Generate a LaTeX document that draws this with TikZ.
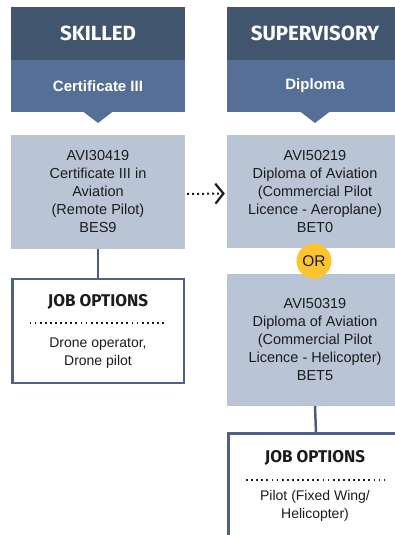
\documentclass[tikz,border=0pt]{standalone}
\usepackage{fontspec}
\setmainfont{Liberation Sans}
\newfontfamily\headfont{Fira Sans}
\usetikzlibrary{arrows.meta}
\definecolor{hdark}{HTML}{42556F}
\definecolor{hlight}{HTML}{566F96}
\definecolor{boxgrey}{HTML}{B9C5D5}
\definecolor{jobborder}{HTML}{4E6283}
\definecolor{conn}{HTML}{4A5D7C}
\definecolor{orfill}{HTML}{FCC42E}
\definecolor{ink}{HTML}{1C1C1C}
\tikzset{
  hdbox/.style={fill=hdark, minimum height=53pt, inner sep=0pt, text=white,
    font=\headfont\bfseries\fontsize{20.5}{24}\selectfont},
  subbox/.style={fill=hlight, minimum height=52pt, inner sep=0pt, text=white,
    font=\bfseries\fontsize{15}{18}\selectfont},
  pointer/.style={fill=hlight},
  coursebox/.style={fill=boxgrey, inner sep=0pt, text=ink, align=center,
    font=\fontsize{14.5}{18}\selectfont},
  jobbox/.style={draw=jobborder, line width=2.5pt, fill=white, inner sep=0pt},
  jobtitle/.style={text=ink, inner sep=0pt, font=\headfont\bfseries\fontsize{17}{20}\selectfont},
  jobtext/.style={text=ink, inner sep=0pt, align=center, font=\fontsize{14}{18}\selectfont},
  sepline/.style={ink, line width=1.8pt, dash pattern=on 1.8pt off 3.3pt},
  link/.style={conn, line width=2.5pt},
  nextarrow/.style={ink, line width=2pt, dash pattern=on 2pt off 3pt,
    -{Straight Barb[length=8pt,width=20pt,line width=2.2pt]}, shorten <=2pt, shorten >=2pt},
  ornode/.style={circle, fill=orfill, minimum size=35pt, inner sep=0pt, text=ink,
    font=\fontsize{15.5}{18}\selectfont}
}
\begin{document}
\begin{tikzpicture}[x=1pt,y=-1pt]
\useasboundingbox (0,0) rectangle (395,535);
\clip (0,0) rectangle (395,535);

% headers
\node[hdbox, minimum width=174pt] (hdL) at (98,33.5) {SKILLED};
\node[subbox, minimum width=174pt] (subL) at (98,86) {Certificate III};
\fill[pointer] (83,111.5) -- (113,111.5) -- (98,123) -- cycle;

\node[hdbox, minimum width=176pt] (hdR) at (315,33.5) {SUPERVISORY};
\node[subbox, minimum width=176pt] (subR) at (315,86) {Diploma};
\fill[pointer] (300,111.5) -- (330,111.5) -- (315,123) -- cycle;

% course boxes
\node[coursebox, minimum width=174pt, minimum height=114pt] (boxL) at (98,192)
  {AVI30419\\Certificate III in\\Aviation\\(Remote Pilot)\\BES9};
\node[coursebox, minimum width=176pt, minimum height=113pt] (boxR1) at (315,191.5)
  {AVI50219\\Diploma of Aviation\\(Commercial Pilot\\Licence - Aeroplane)\\BET0};
\node[coursebox, minimum width=176pt, minimum height=132pt] (boxR2) at (315,340)
  {AVI50319\\Diploma of Aviation\\(Commercial Pilot\\Licence - Helicopter)\\BET5};
\node[ornode] (or) at (314,261) {OR};

% job boxes
\node[jobbox, minimum width=171.5pt, minimum height=104pt] (jobL) at (98,331) {};
\node[jobtitle] (jobLt) at (98,302) {JOB OPTIONS};
\draw[sepline] (29.5,323) -- (167,323);
\node[jobtext] (jobLd) at (98,353) {Drone operator,\\Drone pilot};

\node[jobbox, minimum width=175pt, minimum height=127pt] (jobR) at (316,497) {};
\node[jobtitle] (jobRt) at (315,458) {JOB OPTIONS};
\draw[sepline] (246,480) -- (385,480);
\node[jobtext] (jobRd) at (315,506) {Pilot (Fixed Wing/\\Helicopter)};

% connectors
\draw[link] (boxL.south) -- (jobL.north);
\draw[link] (boxR2.south) -- (jobR.north);
\draw[nextarrow] ([yshift=-2pt]boxL.east) -- ([yshift=-2pt]boxR1.west);
\end{tikzpicture}
\end{document}
